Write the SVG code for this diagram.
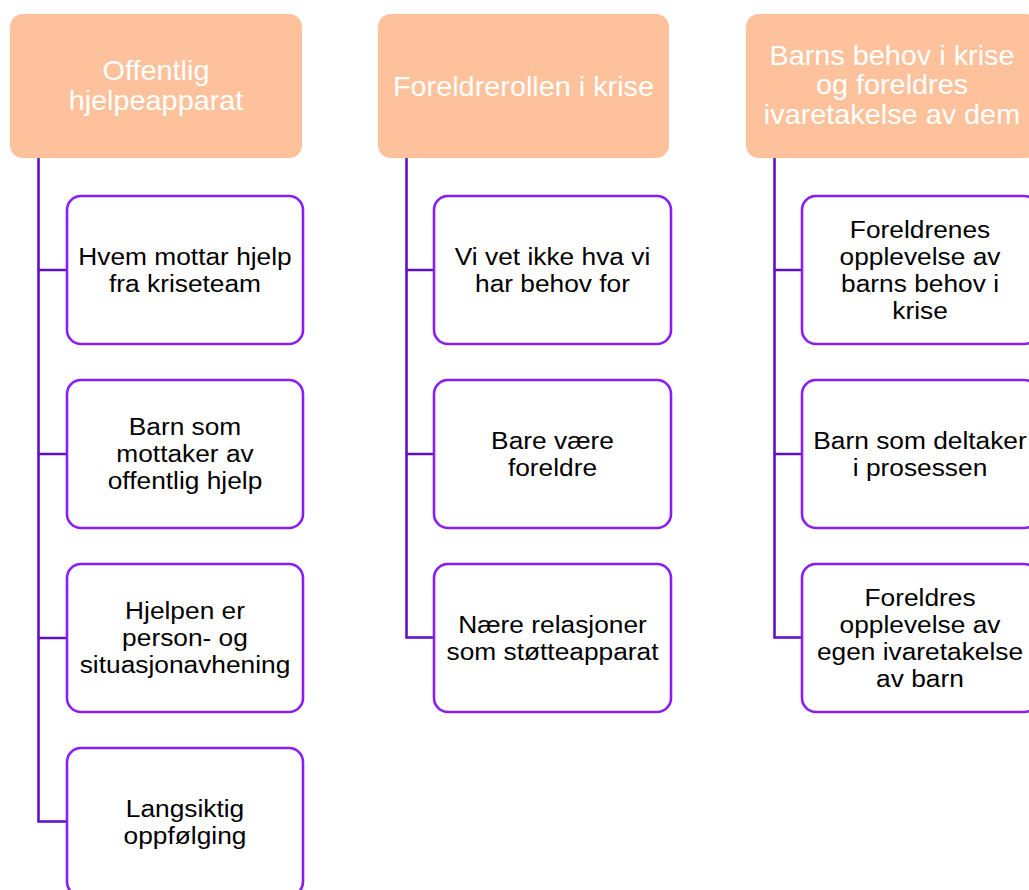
<svg xmlns="http://www.w3.org/2000/svg" width="1029" height="890" viewBox="0 0 1029 890">
<style>
.hdr{fill:#FDC19C;}
.hdrt{fill:#FFFFFF;font-family:"Liberation Sans",Arial,sans-serif;font-size:28px;text-anchor:middle;}
.box{fill:#FFFFFF;stroke:#8A1EF2;stroke-width:2.6;}
.txt{fill:#000000;font-family:"Liberation Sans",Arial,sans-serif;font-size:23.5px;text-anchor:middle;}
.con{fill:none;stroke:#5F0FC8;stroke-width:2.6;}
</style>
<rect width="1029" height="890" fill="#FFFFFF"/>
<g id="connectors">
<path class="con" d="M38.5 158 V821.5 H67 M38.5 270 H67 M38.5 454 H67 M38.5 638 H67"/>
<path class="con" d="M406.5 158 V637.5 H434 M406.5 270 H434 M406.5 454 H434"/>
<path class="con" d="M774.5 158 V637.5 H802 M774.5 270 H802 M774.5 454 H802"/>
</g>
<g id="h1"><rect class="hdr" x="10" y="14" width="292" height="144" rx="13"/>
<g transform="translate(156 0) scale(1.03 1)"><text class="hdrt" x="0" y="80">Offentlig</text><text class="hdrt" x="0" y="110">hjelpeapparat</text></g></g>
<g id="h2"><rect class="hdr" x="378" y="14" width="291" height="144" rx="13"/>
<g transform="translate(523.5 0) scale(1.03 1)"><text class="hdrt" x="0" y="96">Foreldrerollen i krise</text></g></g>
<g id="h3"><rect class="hdr" x="746" y="14" width="292" height="144" rx="13"/>
<g transform="translate(892 0) scale(1.03 1)"><text class="hdrt" x="0" y="65">Barns behov i krise</text><text class="hdrt" x="0" y="94.5">og foreldres</text><text class="hdrt" x="0" y="124">ivaretakelse av dem</text></g></g>

<g id="c1a"><rect class="box" x="67" y="196" width="236" height="148" rx="14"/>
<g transform="translate(185 0) scale(1.12 1)"><text class="txt" x="0" y="265">Hvem mottar hjelp</text><text class="txt" x="0" y="292">fra kriseteam</text></g></g>
<g id="c1b"><rect class="box" x="67" y="380" width="236" height="148" rx="14"/>
<g transform="translate(185 0) scale(1.12 1)"><text class="txt" x="0" y="435.5">Barn som</text><text class="txt" x="0" y="462.5">mottaker av</text><text class="txt" x="0" y="489.5">offentlig hjelp</text></g></g>
<g id="c1c"><rect class="box" x="67" y="564" width="236" height="148" rx="14"/>
<g transform="translate(185 0) scale(1.12 1)"><text class="txt" x="0" y="619.5">Hjelpen er</text><text class="txt" x="0" y="646.5">person- og</text><text class="txt" x="0" y="673.5">situasjonavhening</text></g></g>
<g id="c1d"><rect class="box" x="67" y="748" width="236" height="148" rx="14"/>
<g transform="translate(185 0) scale(1.12 1)"><text class="txt" x="0" y="817">Langsiktig</text><text class="txt" x="0" y="844">oppfølging</text></g></g>

<g id="c2a"><rect class="box" x="434" y="196" width="237" height="148" rx="14"/>
<g transform="translate(552.5 0) scale(1.12 1)"><text class="txt" x="0" y="265">Vi vet ikke hva vi</text><text class="txt" x="0" y="292">har behov for</text></g></g>
<g id="c2b"><rect class="box" x="434" y="380" width="237" height="148" rx="14"/>
<g transform="translate(552.5 0) scale(1.12 1)"><text class="txt" x="0" y="449">Bare være</text><text class="txt" x="0" y="476">foreldre</text></g></g>
<g id="c2c"><rect class="box" x="434" y="564" width="237" height="148" rx="14"/>
<g transform="translate(552.5 0) scale(1.12 1)"><text class="txt" x="0" y="633">Nære relasjoner</text><text class="txt" x="0" y="660">som støtteapparat</text></g></g>

<g id="c3a"><rect class="box" x="802" y="196" width="236" height="148" rx="14"/>
<g transform="translate(920 0) scale(1.12 1)"><text class="txt" x="0" y="238">Foreldrenes</text><text class="txt" x="0" y="265">opplevelse av</text><text class="txt" x="0" y="292">barns behov i</text><text class="txt" x="0" y="319">krise</text></g></g>
<g id="c3b"><rect class="box" x="802" y="380" width="236" height="148" rx="14"/>
<g transform="translate(920 0) scale(1.12 1)"><text class="txt" x="0" y="449">Barn som deltaker</text><text class="txt" x="0" y="476">i prosessen</text></g></g>
<g id="c3c"><rect class="box" x="802" y="564" width="236" height="148" rx="14"/>
<g transform="translate(920 0) scale(1.12 1)"><text class="txt" x="0" y="606">Foreldres</text><text class="txt" x="0" y="633">opplevelse av</text><text class="txt" x="0" y="660">egen ivaretakelse</text><text class="txt" x="0" y="687">av barn</text></g></g>
</svg>
